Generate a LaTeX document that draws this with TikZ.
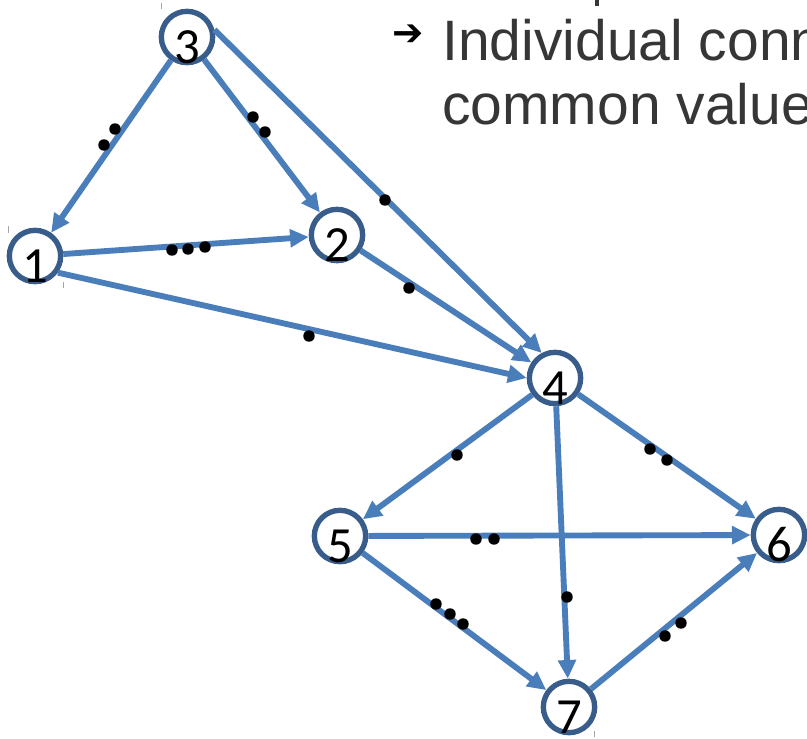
\documentclass[tikz,border=0pt]{standalone}
\usepackage{fontspec}
\setmainfont{Liberation Sans}
\newfontfamily\digitfont{Carlito}
\newfontfamily\symbolfont{DejaVu Sans}
\usetikzlibrary{arrows.meta}
\definecolor{edgeblue}{HTML}{4A7EBB}
\definecolor{ringblue}{HTML}{385D8A}
\definecolor{textgray}{HTML}{363636}
\tikzset{
  vertex/.style={circle, draw=ringblue, fill=white, line width=4pt,
    minimum size=38.5pt, inner sep=0pt,
    label={[font=\digitfont\fontsize{38}{38}\selectfont, yshift=-7.5pt]center:#1}},
  edge/.style={draw=edgeblue, line width=4.4pt,
    -{Triangle[length=14pt,width=13pt]}},
  dot/.style={fill=black},
  tick/.style={draw=gray!70, line width=0.6pt},
}
\begin{document}
\begin{tikzpicture}[x=0.75pt, y=-0.75pt]
\clip (0,0) rectangle (807,739);
\fill[white] (0,0) rectangle (807,739);

% heading text, cut by the page edge
\fill[textgray] (595,0) rectangle (599,6);
\node[font=\symbolfont\bfseries\fontsize{28}{28}\selectfont, anchor=center, inner sep=0pt] (bullet) at (408,35) {➔};
\node[font=\fontsize{42.75}{42.75}\selectfont, text=textgray, anchor=base west, inner sep=0pt] (line1) at (442,60) {Individual conn};
\node[font=\fontsize{42.75}{42.75}\selectfont, text=textgray, anchor=base west, inner sep=0pt] (line2) at (442,124) {common value};

% vertices
\node[vertex=3] (n3) at (187,37) {};
\node[vertex=1] (n1) at (35,256) {};
\node[vertex=2] (n2) at (337,235) {};
\node[vertex=4] (n4) at (555,378) {};
\node[vertex=5] (n5) at (340,536) {};
\node[vertex=6] (n6) at (779,535) {};
\node[vertex=7] (n7) at (569,707) {};

% directed edges
\draw[edge] (n3) -- (n1);
\draw[edge] (n3) -- (n2);
\draw[edge] (n3.15) -- (n4.118);
\draw[edge] (n1) -- (n2);
\draw[edge] (n1.-36) -- (n4.180);
\draw[edge] (n2) -- (n4);
\draw[edge] (n4) -- (n5);
\draw[edge] (n4) -- (n6);
\draw[edge] (n4) -- (n7);
\draw[edge] (n5) -- (n6);
\draw[edge] (n5) -- (n7);
\draw[edge] (n7) -- (n6);

% weight dots on the edges
\foreach \p in {(115,129),(104,145),(253,117),(265,132),(385,200),
                (172,250),(188,249),(205,247),(409,288),(309,336),
                (457,455),(650,449),(667,460),(476,539),(494,539),
                (567,597),(436,604),(450,614),(463,624),(665,636),(681,623)}
  \fill[dot] \p circle[radius=4.3pt];

% small frame ticks
\draw[tick] (161,3) -- (161,9);
\draw[tick] (8,226) -- (8,233);
\draw[tick] (63,282) -- (63,288);
\draw[tick] (594,731) -- (594,737);
\end{tikzpicture}
\end{document}
